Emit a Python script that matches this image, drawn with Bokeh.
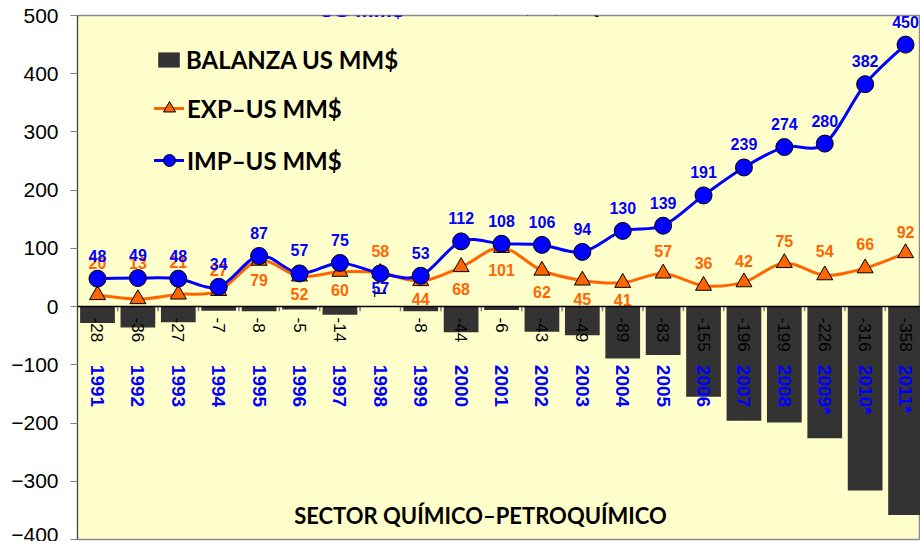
import math
from bokeh.plotting import figure
from bokeh.models import (ColumnDataSource, Range1d, Legend, LegendItem, Label,
                          Span, FixedTicker)
from bokeh.core.properties import value
from bokeh.embed import file_html
from bokeh.resources import INLINE

# ---------------- data ----------------
years = ["1991", "1992", "1993", "1994", "1995", "1996", "1997", "1998", "1999",
         "2000", "2001", "2002", "2003", "2004", "2005", "2006", "2007", "2008",
         "2009*", "2010*", "2011*"]
imp = [48, 49, 48, 34, 87, 57, 75, 57, 53, 112, 108, 106, 94, 130, 139, 191,
       239, 274, 280, 382, 450]
exp = [20, 13, 21, 27, 79, 52, 60, 58, 44, 68, 101, 62, 45, 41, 57, 36, 42,
       75, 54, 66, 92]
balanza = [-28, -36, -27, -7, -8, -5, -14, 1, -8, -44, -6, -43, -49, -89, -83,
           -155, -196, -199, -226, -316, -358]
y_ticks = [-400, -300, -200, -100, 0, 100, 200, 300, 400, 500]

# label placement (pixel offsets, negative = above the point)
exp_label_dy = [-32, -36, -32, -21, 19, 18, 18, -22, 18, 22, 22, 21, 19, 17,
                -22, -23, -21, -22, -24, -24, -21]
imp_label_dy = [-23, -23, -23, -23, -23, -23, -23, 15, -23, -23, -23, -23, -23,
                -23, -23, -23, -23, -23, -23, -23, -23]

xs = list(range(1, len(years) + 1))

BLUE = "#0000FF"
ORANGE = "#FF6600"
BAR = "#333333"
BG = "#FFFFCC"
VAL = "Liberation Sans"
LEG = "Lato"
VAL_FONT = value(VAL)


def smooth_segments(px, py):
    """Catmull-Rom style bezier control points (Excel-like smoothed line)."""
    n = len(px)
    d = dict(x0=[], y0=[], x1=[], y1=[], cx0=[], cy0=[], cx1=[], cy1=[])
    for i in range(n - 1):
        xp, yp = (px[i - 1], py[i - 1]) if i > 0 else (px[i], py[i])
        xn, yn = (px[i + 2], py[i + 2]) if i + 2 < n else (px[i + 1], py[i + 1])
        d["x0"].append(px[i]); d["y0"].append(py[i])
        d["x1"].append(px[i + 1]); d["y1"].append(py[i + 1])
        d["cx0"].append(px[i] + (px[i + 1] - xp) / 6.0)
        d["cy0"].append(py[i] + (py[i + 1] - yp) / 6.0)
        d["cx1"].append(px[i + 1] - (xn - px[i]) / 6.0)
        d["cy1"].append(py[i + 1] - (yn - py[i]) / 6.0)
    return ColumnDataSource(d)


src = ColumnDataSource(dict(
    x=xs, year=years, imp=imp, exp=exp, bal=balanza,
    imp_txt=[str(v) for v in imp], exp_txt=[str(v) for v in exp],
    imp_dy=imp_label_dy, exp_dy=exp_label_dy,
))
neg_idx = [i for i, v in enumerate(balanza) if v <= 0]
pos_idx = [i for i, v in enumerate(balanza) if v > 0]
neg_src = ColumnDataSource(dict(x=[xs[i] for i in neg_idx],
                                t=[str(balanza[i]) for i in neg_idx]))
pos_src = ColumnDataSource(dict(x=[xs[i] for i in pos_idx],
                                t=[str(balanza[i]) for i in pos_idx]))

p = figure(width=920, height=541,
           x_range=Range1d(0.505, 21.37), y_range=Range1d(-400, 500),
           output_backend="svg", toolbar_location=None,
           x_axis_location=None,
           min_border_left=77, min_border_right=0,
           min_border_top=15, min_border_bottom=2,
           background_fill_color=BG, border_fill_color="white")
p.grid.visible = False
p.outline_line_color = "#8C8C8C"
p.outline_line_width = 1.5

yax = p.yaxis[0]
yax.ticker = FixedTicker(ticks=y_ticks)
yax.major_label_text_font = VAL
yax.major_label_text_font_size = "21px"
yax.major_label_text_color = "black"
yax.major_tick_out = 7
yax.major_tick_in = 0
yax.minor_tick_line_color = None
yax.major_tick_line_color = "#808080"
yax.axis_line_color = "#404040"
yax.major_label_standoff = 12

# bars
bars = p.vbar(x="x", top="bal", bottom=0, width=0.86, source=src,
              fill_color=BAR, line_color=None)

# zero line and category boundary ticks
p.add_layout(Span(location=0, dimension="width", line_color="black",
                  line_width=1.5))
p.segment(x0=[v + 0.5 for v in xs[:-1]], y0=0,
          x1=[v + 0.5 for v in xs[:-1]], y1=-8,
          line_color="#808080", line_width=1.5)

# balance labels (inside base)
p.text(x="x", y=0, text="t", source=neg_src, angle=-math.pi / 2,
       y_offset=11, text_align="left", text_baseline="middle",
       text_font=VAL_FONT, text_font_size="17px", text_color="black")
p.text(x="x", y=0, text="t", source=pos_src, angle=-math.pi / 2,
       y_offset=-9, text_align="right", text_baseline="middle",
       text_font=VAL_FONT, text_font_size="17px", text_color="black")

# year labels
p.text(x="x", y=-100, text="year", source=src, angle=-math.pi / 2,
       text_align="left", text_baseline="middle",
       text_font=VAL_FONT, text_font_size="19px", text_font_style="bold",
       text_color=BLUE)

# EXP smoothed line + markers
exp_line = p.bezier(x0="x0", y0="y0", x1="x1", y1="y1", cx0="cx0", cy0="cy0",
                    cx1="cx1", cy1="cy1", source=smooth_segments(xs, exp),
                    line_color=ORANGE, line_width=3, line_cap="round")
exp_pts = p.scatter(x="x", y="exp", source=src, marker="triangle", size=16,
                    fill_color=ORANGE, line_color="black", line_width=1)

# IMP smoothed line + markers
imp_line = p.bezier(x0="x0", y0="y0", x1="x1", y1="y1", cx0="cx0", cy0="cy0",
                    cx1="cx1", cy1="cy1", source=smooth_segments(xs, imp),
                    line_color=BLUE, line_width=3, line_cap="round")
imp_pts = p.scatter(x="x", y="imp", source=src, marker="circle", size=17,
                    fill_color=BLUE, line_color="black", line_width=1)

# value labels
p.text(x="x", y="exp", text="exp_txt", source=src, y_offset="exp_dy",
       text_align="center", text_baseline="middle", text_font=VAL_FONT,
       text_font_size="16px", text_font_style="bold", text_color=ORANGE)
p.text(x="x", y="imp", text="imp_txt", source=src, y_offset="imp_dy",
       text_align="center", text_baseline="middle", text_font=VAL_FONT,
       text_font_size="16px", text_font_style="bold", text_color=BLUE)

leg1 = Legend(items=[LegendItem(label="BALANZA US MM$", renderers=[bars])],
              location=(78, 465), glyph_width=27, glyph_height=19,
              label_height=19, padding=0, margin=0, border_line_color=None,
              background_fill_alpha=0, label_standoff=4,
              label_text_font=LEG, label_text_font_size="24px",
              label_text_font_style="bold", label_text_color="black")
leg2 = Legend(items=[LegendItem(label="EXP–US MM$",
                                renderers=[exp_line, exp_pts]),
                     LegendItem(label="IMP–US MM$",
                                renderers=[imp_line, imp_pts])],
              location=(77, 363), glyph_width=30, glyph_height=32,
              label_height=32, spacing=20, padding=0, margin=0,
              border_line_color=None, background_fill_alpha=0,
              label_standoff=3, label_text_font=LEG,
              label_text_font_size="24px", label_text_font_style="bold",
              label_text_color="black")
p.add_layout(leg1)
p.add_layout(leg2)

# texts
p.add_layout(Label(x=403, y=24, x_units="screen", y_units="screen",
                   text="SECTOR QUÍMICO–PETROQUÍMICO", text_align="center",
                   text_baseline="middle", text_font=LEG,
                   text_font_size="22px", text_font_style="bold",
                   text_color="black"))
p.add_layout(Label(x=241, y=530, x_units="screen", y_units="screen",
                   text="US MM$", text_align="left",
                   text_baseline="alphabetic", text_font=VAL,
                   text_font_size="22px", text_font_style="bold",
                   text_color=BLUE))
p.add_layout(Label(x=366, y=530, x_units="screen", y_units="screen",
                   text="Fuente: OCEI, INE, ASOQUIM", text_align="left",
                   text_baseline="alphabetic", text_font=VAL,
                   text_font_size="13px", text_font_style="bold",
                   text_color="black"))

open("out.html", "w").write(file_html(p, INLINE))
